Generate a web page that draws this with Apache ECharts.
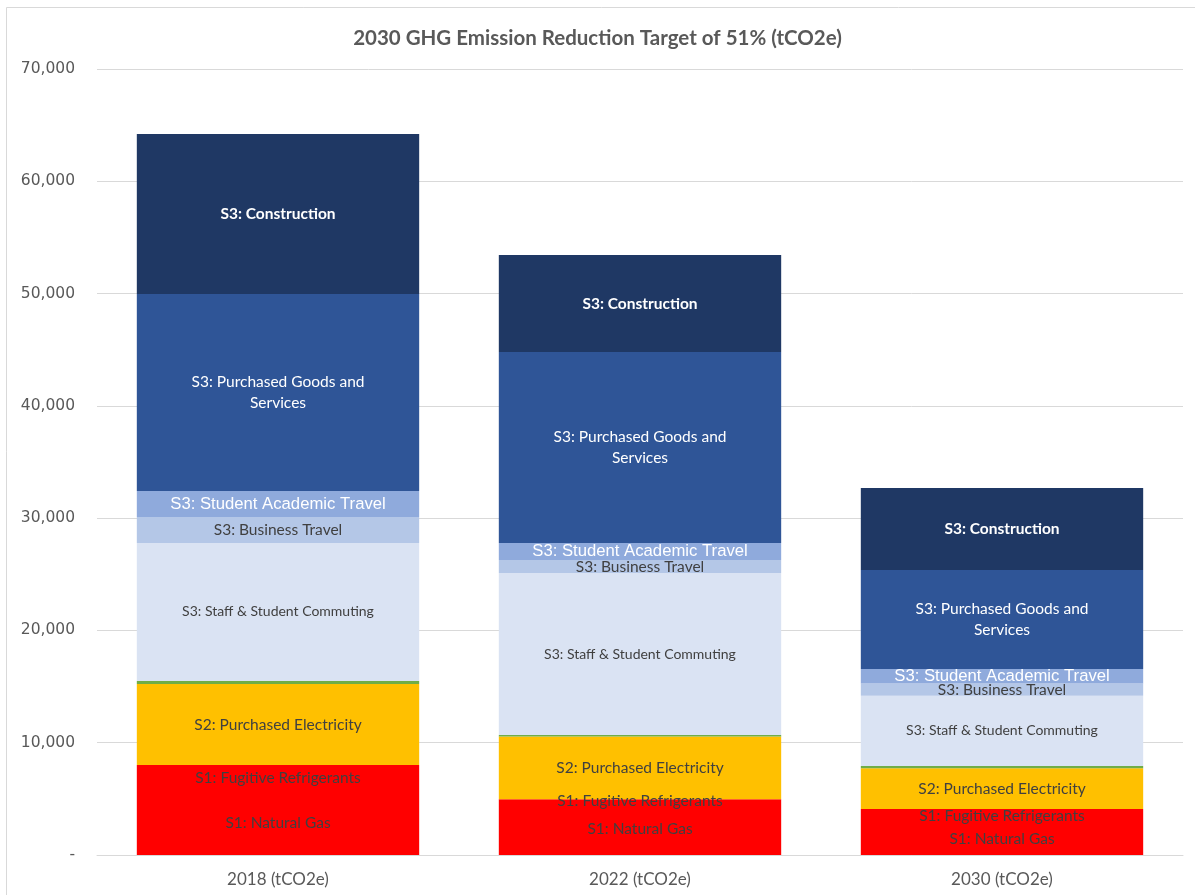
<!DOCTYPE html>
<html>
<head>
<meta charset="utf-8">
<script src="https://cdn.jsdelivr.net/npm/echarts@6/dist/echarts.min.js"></script>
<style>
html,body{margin:0;padding:0;background:#fff;}
#chart{width:1195px;height:895px;}
</style>
</head>
<body>
<div id="chart"></div>
<script>
const categories = ['2018 (tCO2e)', '2022 (tCO2e)', '2030 (tCO2e)'];
const naturalGas = [5700, 4630, 2850];
const fugitiveRefrigerants = [2310, 330, 1250];
const purchasedElectricity = [7220, 5600, 3630];
const otherScope = [270, 130, 200];
const commuting = [12290, 14420, 6260];
const businessTravel = [2310, 1160, 1090];
const studentAcademicTravel = [2320, 1520, 1280];
const purchasedGoods = [17540, 17000, 8820];
const construction = [14250, 8640, 7300];
const yTicks = [0, 10000, 20000, 30000, 40000, 50000, 60000, 70000];

const FONT = 'Lato, "Open Sans", sans-serif';
const dark = '#404040';

function mk(name, data, color, label) {
  return {
    name: name, type: 'bar', stack: 'total', data: data,
    barCategoryGap: '22%',
    itemStyle: { color: color },
    label: Object.assign({ show: true, position: 'inside', fontFamily: FONT, fontSize: 15.5, color: dark, formatter: name }, label || {}),
    emphasis: { disabled: true }
  };
}

const chart = echarts.init(document.getElementById('chart'));
chart.setOption({
  animation: false,
  backgroundColor: '#fff',
  title: {
    text: '2030 GHG Emission Reduction Target of 51% (tCO2e)',
    left: 'center', top: 23,
    textStyle: { fontFamily: FONT, fontSize: 20.5, fontWeight: 'bold', color: '#595959' }
  },
  graphic: [{
    type: 'rect', shape: { x: 6.5, y: 7.5, width: 1300, height: 1000 },
    style: { fill: null, stroke: '#d9d9d9', lineWidth: 1 }, silent: true
  }],
  grid: { left: 97, right: 12, top: 69, bottom: 40, containLabel: false },
  xAxis: {
    type: 'category', data: categories,
    axisTick: { show: false },
    axisLine: { lineStyle: { color: '#d9d9d9', width: 1 } },
    axisLabel: { fontFamily: FONT, fontSize: 17, color: '#595959', margin: 16 }
  },
  yAxis: {
    type: 'value', min: yTicks[0], max: yTicks[yTicks.length - 1], interval: 10000,
    axisLine: { show: false }, axisTick: { show: false },
    splitLine: { lineStyle: { color: '#d9d9d9', width: 1 } },
    axisLabel: {
      fontFamily: '"DejaVu Sans", Verdana, sans-serif', fontSize: 15.5, color: '#595959', margin: 22,
      formatter: function (v) { return v === 0 ? '-' : v.toLocaleString('en-US'); }
    }
  },
  series: [
    mk('S1: Natural Gas', naturalGas, '#FF0000'),
    mk('S1: Fugitive Refrigerants', fugitiveRefrigerants, '#FF0000'),
    mk('S2: Purchased Electricity', purchasedElectricity, '#FFC000'),
    mk('Other', otherScope, '#70AD47', { show: false }),
    mk('S3: Staff & Student Commuting', commuting, '#DAE3F3', { fontSize: 14 }),
    mk('S3: Business Travel', businessTravel, '#B4C7E7'),
    mk('S3: Student Academic Travel', studentAcademicTravel, '#8FAADC', { color: '#ffffff', fontSize: 16.7, fontFamily: '"Liberation Sans", Arial, sans-serif' }),
    mk('S3: Purchased Goods and Services', purchasedGoods, '#2F5597', { color: '#ffffff', formatter: 'S3: Purchased Goods and\nServices', lineHeight: 21 }),
    mk('S3: Construction', construction, '#1F3864', { color: '#ffffff', fontWeight: 'bold', fontSize: 15.5 })
  ]
});
</script>
</body>
</html>
